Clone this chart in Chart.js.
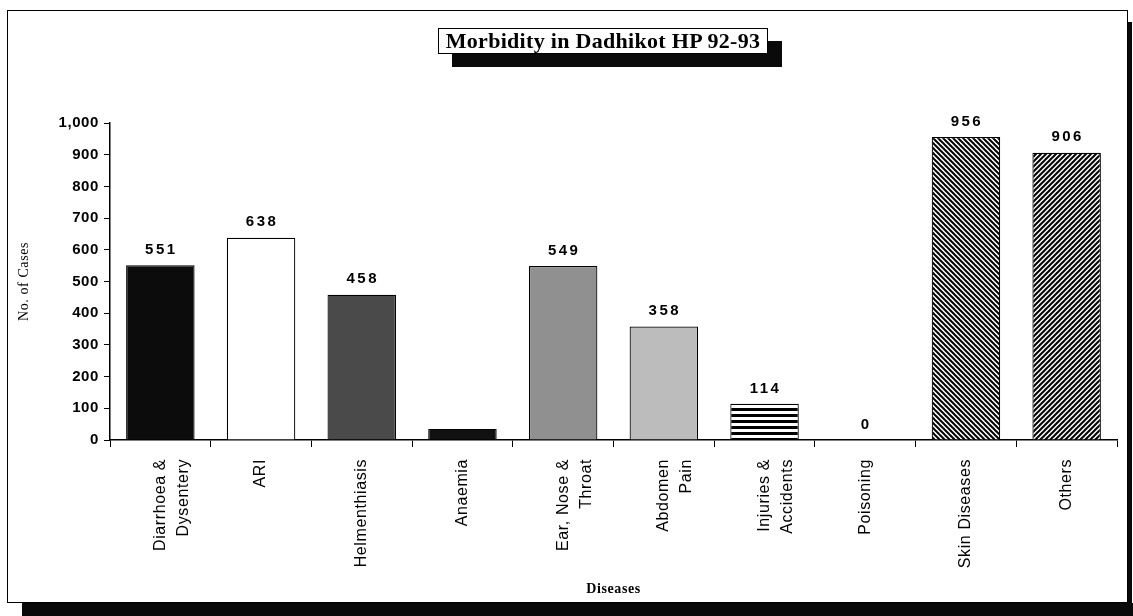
<!DOCTYPE html>
<html>
<head>
<meta charset="utf-8">
<script src="https://cdn.jsdelivr.net/npm/chart.js@4.4.0/dist/chart.umd.min.js"></script>
<style>
  body { margin: 0; background: #fff; width: 1133px; height: 616px; overflow: hidden; position: relative; }
  #frame { position: absolute; left: 7px; top: 10px; width: 1119px; height: 591px; border: 1.5px solid #000; background: #fff; }
  #shadowB { position: absolute; left: 22px; top: 603px; width: 1111px; height: 13px; background: #0a0a0a; }
  #shadowR { position: absolute; left: 1128px; top: 22px; width: 4px; height: 585px; background: #0a0a0a; }
  #title { position: absolute; left: 438px; top: 28px; width: 328px; height: 24px; border: 1.5px solid #000; background: #fff;
           box-shadow: 14px 13px 0 #0a0a0a; font: bold 22px "Liberation Serif", serif; line-height: 24px; letter-spacing: 0.3px;
           text-align: center; color: #000; z-index: 2; white-space: nowrap; }
  #wrap { position: absolute; left: 0; top: 0; width: 1133px; height: 616px; z-index: 1; }
</style>
</head>
<body>
<div id="shadowB"></div>
<div id="shadowR"></div>
<div id="frame"></div>
<div id="title">Morbidity in Dadhikot HP 92-93</div>
<div id="wrap"><canvas id="chart" width="1133" height="616"></canvas></div>
<script>
// chart data
const diseases = [
  ['Diarrhoea &', 'Dysentery'], 'ARI', 'Helmenthiasis', 'Anaemia', ['Ear, Nose &', 'Throat'],
  ['Abdomen', 'Pain'], ['Injuries &', 'Accidents'], 'Poisoning', 'Skin Diseases', 'Others'
];
const cases = [551, 638, 458, 35, 549, 358, 114, 0, 956, 906];
const showValue = [true, true, true, false, true, true, true, true, true, true];
const yTicks = [0, 100, 200, 300, 400, 500, 600, 700, 800, 900, 1000];

function tile(size, draw) {
  const c = document.createElement('canvas');
  c.width = size; c.height = size;
  const g = c.getContext('2d');
  g.fillStyle = '#fff';
  g.fillRect(0, 0, size, size);
  draw(g, size);
  return g.createPattern(c, 'repeat');
}
const ctx0 = document.getElementById('chart').getContext('2d');

// hatch fills
const hStripes = tile(6, (g, s) => { g.fillStyle = '#000'; g.fillRect(0, 0, s, 3); });
const backHatch = tile(5, (g, s) => {
  g.strokeStyle = '#000'; g.lineWidth = 2;
  g.beginPath(); g.moveTo(-1, -1); g.lineTo(s + 1, s + 1); g.stroke();
  g.beginPath(); g.moveTo(-1, s - 1); g.lineTo(1, s + 1); g.stroke();
  g.beginPath(); g.moveTo(s - 1, -1); g.lineTo(s + 1, 1); g.stroke();
});
const fwdHatch = tile(5, (g, s) => {
  g.strokeStyle = '#000'; g.lineWidth = 2;
  g.beginPath(); g.moveTo(-1, s + 1); g.lineTo(s + 1, -1); g.stroke();
  g.beginPath(); g.moveTo(-1, 1); g.lineTo(1, -1); g.stroke();
  g.beginPath(); g.moveTo(s - 1, s + 1); g.lineTo(s + 1, s - 1); g.stroke();
});

const fills = ['#0c0c0c', '#ffffff', '#4a4a4a', '#111111', '#909090', '#bcbcbc', hStripes, '#ffffff', backHatch, fwdHatch];

// slightly open lettering like the original print
const spacing = {
  id: 'spacing',
  beforeLayout(chart) { chart.ctx.letterSpacing = '0.6px'; },
  beforeDraw(chart) { chart.ctx.letterSpacing = '0.6px'; }
};

const valueLabels = {
  id: 'valueLabels',
  afterDatasetsDraw(chart) {
    const ctx = chart.ctx;
    const meta = chart.getDatasetMeta(0);
    ctx.save();
    ctx.font = 'bold 15px "Liberation Sans", Arial, sans-serif';
    ctx.letterSpacing = '2.5px';
    ctx.fillStyle = '#000';
    ctx.textAlign = 'center';
    ctx.textBaseline = 'bottom';
    meta.data.forEach((bar, i) => {
      if (!showValue[i]) return;
      ctx.fillText(String(cases[i]), bar.x + 1, bar.y - 8);
    });
    ctx.restore();
  }
};

new Chart(ctx0, {
  type: 'bar',
  data: {
    labels: diseases,
    datasets: [{
      data: cases,
      backgroundColor: fills,
      borderColor: '#000',
      borderWidth: 1.2,
      categoryPercentage: 1,
      barPercentage: 0.68
    }]
  },
  options: {
    responsive: false,
    animation: false,
    layout: { padding: { left: 0, right: 16, top: 123, bottom: 0 } },
    plugins: { legend: { display: false }, title: { display: false }, tooltip: { enabled: false } },
    scales: {
      y: {
        min: 0, max: 1000,
        afterFit: s => { s.width = 110; },
        afterBuildTicks: s => { s.ticks = yTicks.map(v => ({ value: v })); },
        ticks: {
          color: '#000',
          padding: 5,
          font: { family: '"Liberation Sans", Arial, sans-serif', size: 15, weight: 'bold' },
          callback: v => v.toLocaleString('en-US')
        },
        grid: { drawOnChartArea: false, tickLength: 6, color: '#000', lineWidth: 1 },
        border: { color: '#000', width: 1.5 },
        title: {
          display: true, text: 'No. of Cases', color: '#000',
          font: { family: '"Liberation Serif", serif', size: 14 },
          padding: { top: 16, bottom: 0 }
        }
      },
      x: {
        afterFit: s => { s.height = 176; },
        ticks: {
          color: '#000', minRotation: 90, maxRotation: 90, autoSkip: false, padding: 12,
          font: { family: '"Liberation Sans", Arial, sans-serif', size: 16, lineHeight: 1.45 }
        },
        grid: { drawOnChartArea: false, offset: true, tickLength: 7, color: '#000', lineWidth: 1 },
        border: { color: '#000', width: 1.5 },
        title: {
          display: true, text: 'Diseases', color: '#000',
          font: { family: '"Liberation Serif", serif', size: 14, weight: 'bold' },
          padding: { top: 0, bottom: 18 }
        }
      }
    }
  },
  plugins: [spacing, valueLabels]
});
</script>
</body>
</html>
